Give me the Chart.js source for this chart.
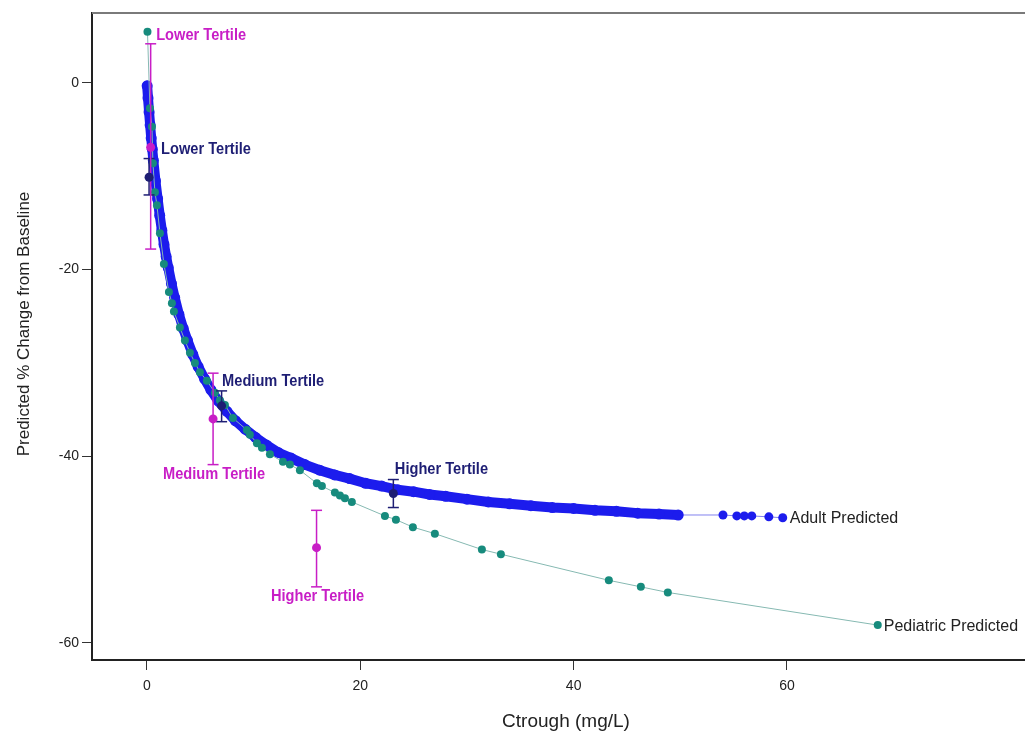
<!DOCTYPE html>
<html>
<head>
<meta charset="utf-8">
<script src="https://cdn.jsdelivr.net/npm/chart.js@4/dist/chart.umd.min.js"></script>
<style>
  html, body { margin: 0; padding: 0; background: #fff; overflow: hidden; }
  #wrap { position: absolute; left: 0; top: 0; width: 1040px; height: 736px; }
</style>
</head>
<body>
<div id="wrap"><canvas id="chart" width="1040" height="736"></canvas></div>
<script>
// axis ticks
const X_TICKS = [0, 20, 40, 60];
const Y_TICKS = [0, -20, -40, -60];

// adult predicted (Ctrough mg/L, % change)
const ADULT_X = [0.02, 0.1, 0.2, 0.3, 0.4, 0.5, 0.6, 0.8, 1.0, 1.2, 1.4, 1.6, 1.8, 2.0, 2.3, 2.6, 3.0, 3.4, 3.8, 4.3,
  4.8, 5.4, 6.0, 6.7, 7.5, 8.3, 9.2, 10.2, 11.2, 12.3, 13.5, 14.8, 16.2, 17.6, 19.0, 20.5, 22.0, 23.5, 25.0, 26.5,
  28.0, 30.0, 32.0, 34.0, 36.0, 38.0, 40.0, 42.0, 44.0, 46.0, 48.0, 49.8, 54.0, 55.3, 56.0, 56.7, 58.3, 59.6];
const ADULT_Y = [-0.3, -1.6, -3.1, -4.5, -5.9, -7.1, -8.3, -10.5, -12.4, -14.2, -15.8, -17.3, -18.6, -19.8, -21.5, -23.0, -24.8, -26.3, -27.6, -29.1,
  -30.4, -31.7, -32.9, -34.1, -35.2, -36.2, -37.1, -38.0, -38.8, -39.6, -40.2, -40.9, -41.5, -42.0, -42.4, -42.9, -43.2, -43.6, -43.8, -44.1,
  -44.3, -44.6, -44.9, -45.1, -45.3, -45.5, -45.6, -45.8, -45.9, -46.1, -46.2, -46.3, -46.3, -46.4, -46.4, -46.4, -46.5, -46.6];

// pediatric predicted
const PED_X = [0.05, 0.28, 0.47, 0.56, 0.75, 0.94, 1.22, 1.59, 2.06, 2.34, 2.53, 3.09, 3.56, 4.03, 4.5, 4.97, 5.62, 6.37, 6.84, 7.31,
  8.06, 9.37, 9.65, 10.31, 10.78, 11.53, 12.75, 13.4, 14.34, 15.93, 16.4, 17.62, 18.09, 18.56, 19.21, 22.31, 23.34, 24.93, 26.99,
  31.4, 33.18, 43.3, 46.3, 48.83, 68.51];
const PED_Y = [5.5, -2.7, -4.7, -8.6, -11.7, -13.1, -16.1, -19.4, -22.4, -23.6, -24.5, -26.2, -27.6, -28.9, -30.0, -31.0, -31.9, -33.2, -34.0, -34.5,
  -35.9, -37.2, -37.7, -38.6, -39.1, -39.8, -40.6, -40.9, -41.5, -42.9, -43.2, -43.9, -44.2, -44.5, -44.9, -46.4, -46.8, -47.6, -48.3,
  -50.0, -50.5, -53.3, -54.0, -54.6, -58.1];

// observed tertiles (mean, lower, upper)
const TERTILE_LABELS = ['Lower Tertile', 'Medium Tertile', 'Higher Tertile'];
const PED_TERT_X = [0.35, 6.2, 15.9];
const PED_TERT_Y = [-6.9, -36.0, -49.8];
const PED_TERT_LO = [-17.8, -40.9, -54.0];
const PED_TERT_HI = [4.2, -31.1, -45.8];
const ADULT_TERT_X = [0.2, 7.0, 23.1];
const ADULT_TERT_Y = [-10.1, -34.6, -44.0];
const ADULT_TERT_LO = [-12.0, -36.3, -45.5];
const ADULT_TERT_HI = [-8.1, -33.0, -42.5];

const BLUE = '#1c1ced';
const TEAL = '#178b7d';
const MAGENTA = '#c81ec6';
const NAVY = '#1e1e74';
const LABEL_FONT = "bold 17px 'Liberation Sans', Arial, sans-serif";
const LABEL_SQUEEZE = 0.86; // narrow look of the original labels

// label placement in pixels: [dx, dy, anchor, align]
const PED_LABEL_POS = [[5.5, -8, 'hi', 'left'], [1, 9.5, 'lo', 'center'], [1, 9, 'lo', 'center']];
const ADULT_LABEL_POS = [[12, -9, 'hi', 'left'], [0.5, -10, 'hi', 'left'], [1.5, -10.5, 'hi', 'left']];

const pts = (xs, ys) => xs.map((x, i) => ({ x, y: ys[i] }));
const barSegs = (xs, lo, hi) => xs.flatMap((x, i) => [{ x, y: lo[i] }, { x, y: hi[i] }, { x, y: null }]);
const caps = (xs, lo, hi) => xs.flatMap((x, i) => [{ x, y: lo[i] }, { x, y: hi[i] }]);

const BAND_END = 49.8;

const annotations = {
  id: 'annotations',
  afterDraw(chart) {
    const { ctx, chartArea, scales: { x, y } } = chart;
    ctx.save();
    // top frame line
    ctx.strokeStyle = '#7a7a7a';
    ctx.lineWidth = 2;
    ctx.beginPath();
    ctx.moveTo(chartArea.left, chartArea.top);
    ctx.lineTo(chartArea.right + 5, chartArea.top);
    ctx.stroke();

    // tertile labels
    ctx.font = LABEL_FONT;
    ctx.textBaseline = 'middle';
    const drawLabels = (xs, lo, hi, pos, color) => {
      ctx.fillStyle = color;
      xs.forEach((v, i) => {
        const [dx, dy, anchor, align] = pos[i];
        const py = y.getPixelForValue(anchor === 'hi' ? hi[i] : lo[i]);
        ctx.save();
        ctx.translate(x.getPixelForValue(v) + dx, py + dy);
        ctx.scale(LABEL_SQUEEZE, 1);
        ctx.textAlign = align;
        ctx.fillText(TERTILE_LABELS[i], 0, 0);
        ctx.restore();
      });
    };
    drawLabels(PED_TERT_X, PED_TERT_LO, PED_TERT_HI, PED_LABEL_POS, MAGENTA);
    drawLabels(ADULT_TERT_X, ADULT_TERT_LO, ADULT_TERT_HI, ADULT_LABEL_POS, NAVY);

    // series end labels
    ctx.font = "16px 'Liberation Sans', Arial, sans-serif";
    ctx.fillStyle = '#222';
    ctx.textAlign = 'left';
    const aLast = ADULT_X.length - 1, pLast = PED_X.length - 1;
    ctx.fillText('Adult Predicted', x.getPixelForValue(ADULT_X[aLast]) + 7, y.getPixelForValue(ADULT_Y[aLast]) + 1);
    ctx.fillText('Pediatric Predicted', x.getPixelForValue(PED_X[pLast]) + 6, y.getPixelForValue(PED_Y[pLast]) + 1);

    // axis titles
    ctx.textAlign = 'center';
    ctx.font = "19px 'Liberation Sans', Arial, sans-serif";
    ctx.fillText('Ctrough (mg/L)', 566, 722);
    ctx.font = "17px 'Liberation Sans', Arial, sans-serif";
    ctx.translate(24, 324);
    ctx.rotate(-Math.PI / 2);
    ctx.fillText('Predicted % Change from Baseline', 0, 0);
    ctx.restore();
  }
};

new Chart(document.getElementById('chart'), {
  type: 'scatter',
  data: {
    datasets: [
      { // pediatric tertile means
        data: pts(PED_TERT_X, PED_TERT_Y), order: 0,
        pointRadius: 4.5, pointBackgroundColor: MAGENTA, pointBorderWidth: 0
      },
      { // adult tertile means
        data: pts(ADULT_TERT_X, ADULT_TERT_Y), order: 0,
        pointRadius: 4.5, pointBackgroundColor: NAVY, pointBorderWidth: 0
      },
      { // pediatric error bars
        data: barSegs(PED_TERT_X, PED_TERT_LO, PED_TERT_HI), order: 1,
        showLine: true, spanGaps: false, borderColor: MAGENTA, borderWidth: 1.5, pointRadius: 0
      },
      {
        data: caps(PED_TERT_X, PED_TERT_LO, PED_TERT_HI), order: 1,
        pointStyle: 'line', pointRadius: 5.5, pointBorderColor: MAGENTA, pointBorderWidth: 1.5
      },
      { // adult error bars
        data: barSegs(ADULT_TERT_X, ADULT_TERT_LO, ADULT_TERT_HI), order: 1,
        showLine: true, spanGaps: false, borderColor: NAVY, borderWidth: 1.5, pointRadius: 0
      },
      {
        data: caps(ADULT_TERT_X, ADULT_TERT_LO, ADULT_TERT_HI), order: 1,
        pointStyle: 'line', pointRadius: 5.5, pointBorderColor: NAVY, pointBorderWidth: 1.5
      },
      { // pediatric predicted
        data: pts(PED_X, PED_Y), order: 2,
        showLine: true, borderColor: '#86b9b2', borderWidth: 1,
        pointRadius: 4, pointBackgroundColor: TEAL, pointBorderWidth: 0
      },
      { // adult predicted
        data: pts(ADULT_X, ADULT_Y), order: 3,
        showLine: true, borderCapStyle: 'round', borderJoinStyle: 'round',
        borderColor: BLUE,
        segment: {
          borderWidth: c => c.p0.parsed.x >= BAND_END ? 1 : 10,
          borderColor: c => c.p0.parsed.x >= BAND_END ? '#8282ee' : BLUE
        },
        pointRadius: c => (c.raw && c.raw.x > BAND_END ? 4.5 : 5.5),
        pointBackgroundColor: BLUE, pointBorderWidth: 0
      }
    ]
  },
  options: {
    responsive: false,
    animation: false,
    layout: { padding: { top: 13, right: 13, left: 0, bottom: 0 } },
    plugins: { legend: { display: false }, tooltip: { enabled: false } },
    scales: {
      x: {
        type: 'linear', min: -5.15, max: 82.5,
        afterFit: s => { s.height = 76; },
        afterBuildTicks: s => { s.ticks = X_TICKS.map(value => ({ value })); },
        grid: { drawOnChartArea: false, drawTicks: true, tickLength: 10, color: '#333', lineWidth: 1 },
        border: { display: true, color: '#222', width: 2 },
        ticks: { padding: 8, color: '#222', font: { family: "'Liberation Sans', Arial, sans-serif", size: 14 } }
      },
      y: {
        type: 'linear', min: -61.84, max: 7.5,
        afterFit: s => { s.width = 92; },
        afterBuildTicks: s => { s.ticks = Y_TICKS.map(value => ({ value })); },
        grid: { drawOnChartArea: false, drawTicks: true, tickLength: 10, color: '#333', lineWidth: 1 },
        border: { display: true, color: '#222', width: 2 },
        ticks: { padding: 3, color: '#222', font: { family: "'Liberation Sans', Arial, sans-serif", size: 14 } }
      }
    }
  },
  plugins: [annotations]
});
</script>
</body>
</html>
